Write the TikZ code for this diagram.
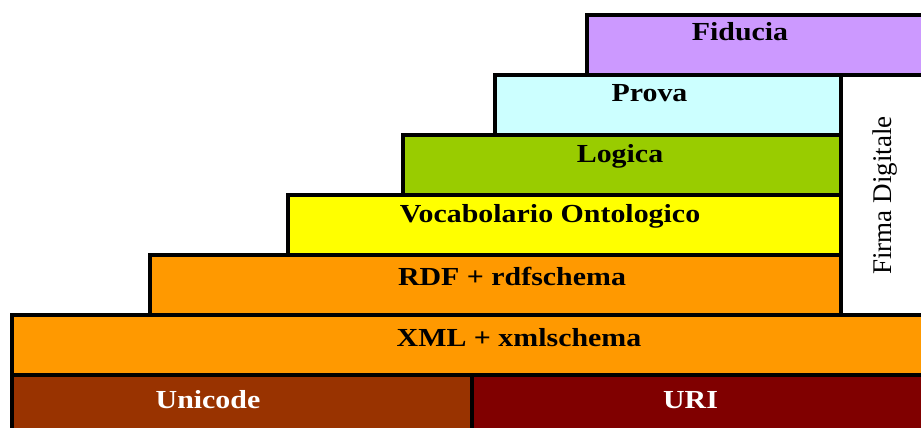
\documentclass[tikz,border=0pt]{standalone}
\usepackage{fontspec}
\setmainfont{Liberation Serif}
\definecolor{fidc}{HTML}{CC99FF}
\definecolor{provac}{HTML}{CCFFFF}
\definecolor{logc}{HTML}{99CC00}
\definecolor{vocc}{HTML}{FFFF00}
\definecolor{orc}{HTML}{FF9900}
\definecolor{unic}{HTML}{993300}
\definecolor{uric}{HTML}{800000}
\newcommand{\wide}[1]{\scalebox{1.15}[1]{#1}}
\begin{document}
\begin{tikzpicture}[x=1pt,y=-1pt,
  layer/.style={draw=black,line width=3.2pt},
  lbl/.style={font=\fontsize{26}{30}\selectfont\bfseries, anchor=base, inner sep=0pt},
  wlbl/.style={lbl, text=white},
  vlbl/.style={font=\fontsize{27}{30}\selectfont, anchor=base, inner sep=0pt, rotate=90}]
\useasboundingbox (0,0) rectangle (921,428);
\begin{scope}
\clip (0,0) rectangle (921,428);
\filldraw[layer, fill=fidc] (587,15) rectangle (935,75);
\filldraw[layer, fill=white] (841,75) rectangle (935,315);
\filldraw[layer, fill=provac] (495,75) rectangle (841,135);
\filldraw[layer, fill=logc] (403,135) rectangle (841,195);
\filldraw[layer, fill=vocc] (288,195) rectangle (841,255);
\filldraw[layer, fill=orc] (150,255) rectangle (841,315);
\filldraw[layer, fill=orc] (12,315) rectangle (935,375);
\filldraw[layer, fill=unic] (12,375) rectangle (472,445);
\filldraw[layer, fill=uric] (472,375) rectangle (935,445);
\end{scope}
\node[lbl] (fid) at (740,41) {\wide{Fiducia}};
\node[lbl] (prova) at (649.5,102) {\wide{Prova}};
\node[lbl] (logica) at (620,162.5) {\wide{Logica}};
\node[lbl] (voc) at (550,222.5) {\wide{Vocabolario Ontologico}};
\node[lbl] (rdf) at (512,285) {\wide{RDF + rdfschema}};
\node[lbl] (xml) at (519,346) {\wide{XML + xmlschema}};
\node[wlbl] (uni) at (208,408) {\wide{Unicode}};
\node[wlbl] (uri) at (690.5,408) {\wide{URI}};
\node[vlbl] (firma) at (891,195.5) {Firma Digitale};
\end{tikzpicture}
\end{document}
